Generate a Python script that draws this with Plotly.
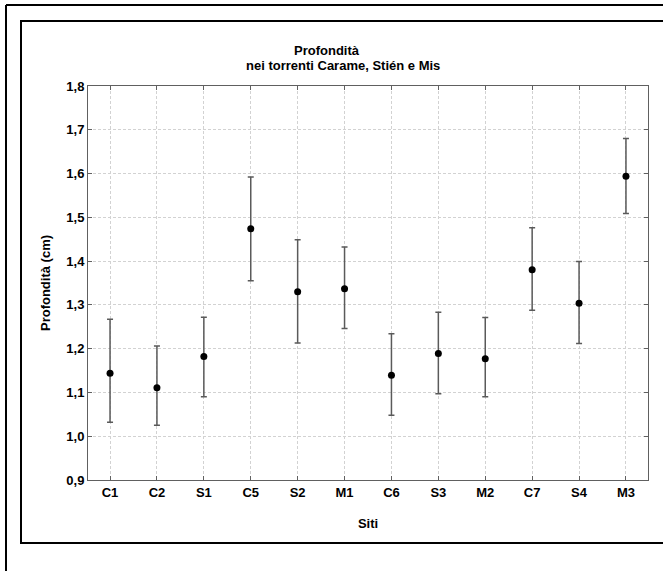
import plotly.graph_objects as go

# Sampling sites along the Carame, Stién and Mis streams
siti = ["C1", "C2", "S1", "C5", "S2", "M1", "C6", "S3", "M2", "C7", "S4", "M3"]
# Mean depth per site
media = [1.144, 1.111, 1.182, 1.474, 1.330, 1.337, 1.139, 1.189, 1.177, 1.380, 1.304, 1.594]
# Upper and lower interval limits
limite_sup = [1.267, 1.206, 1.272, 1.592, 1.449, 1.432, 1.234, 1.283, 1.271, 1.476, 1.399, 1.680]
limite_inf = [1.032, 1.025, 1.090, 1.355, 1.213, 1.246, 1.048, 1.097, 1.090, 1.288, 1.212, 1.509]

y_ticks = [0.9, 1.0, 1.1, 1.2, 1.3, 1.4, 1.5, 1.6, 1.7, 1.8]
y_tick_labels = ["0,9", "1,0", "1,1", "1,2", "1,3", "1,4", "1,5", "1,6", "1,7", "1,8"]

err_plus = [u - m for u, m in zip(limite_sup, media)]
err_minus = [m - l for m, l in zip(media, limite_inf)]

W, H = 663, 571
L, R, T, B = 88, 648, 86, 480  # plot-area pixel box


def px(x):
    return (x - L) / (R - L)


def py(y):
    return (B - y) / (B - T)


FONT = "Liberation Sans"

fig = go.Figure()
fig.add_trace(go.Scatter(
    x=list(range(len(siti))),
    y=media,
    mode="markers",
    marker=dict(color="black", size=7),
    error_y=dict(type="data", symmetric=False, array=err_plus, arrayminus=err_minus,
                 color="#5a5a5a", thickness=1.5, width=3),
    showlegend=False,
    hoverinfo="skip",
))

axis_common = dict(
    showgrid=True, gridcolor="#d2d2d2", griddash="3px,2px", gridwidth=1,
    showline=True, linecolor="#606060", linewidth=1, mirror="ticks",
    ticks="inside", ticklen=4, tickcolor="#606060",
    zeroline=False,
    tickfont=dict(family=FONT, size=13, color="black", weight="bold"),
)

fig.update_xaxes(
    range=[-0.47, len(siti) - 1 + 0.47],
    tickvals=list(range(len(siti))), ticktext=siti,
    title=dict(text="Siti", font=dict(family=FONT, size=13, color="black", weight="bold"), standoff=20),
    **axis_common,
)
fig.update_yaxes(
    range=[0.9, 1.8],
    tickvals=y_ticks, ticktext=y_tick_labels,
    title=dict(text="Profondità (cm)", font=dict(family=FONT, size=13, color="black", weight="bold"), standoff=12),
    **axis_common,
)

shapes = [
    # outer frame (top and left edges)
    dict(type="line", xref="paper", yref="paper", x0=px(6), x1=px(W + 10), y0=py(5), y1=py(5),
         line=dict(color="black", width=2)),
    dict(type="line", xref="paper", yref="paper", x0=px(6), x1=px(6), y0=py(5), y1=py(H + 10),
         line=dict(color="black", width=2)),
    # inner frame
    dict(type="rect", xref="paper", yref="paper", x0=px(21), x1=px(W + 20), y0=py(21), y1=py(543),
         line=dict(color="black", width=2), fillcolor="rgba(0,0,0,0)"),
]

annotations = [
    dict(text="<b>Profondità</b>", xref="paper", yref="paper", x=px(327), y=py(41),
         showarrow=False, font=dict(family=FONT, size=13, color="black")),
    dict(text="<b>nei torrenti Carame, Stién e Mis</b>", xref="paper", yref="paper", x=px(343), y=py(56),
         showarrow=False, font=dict(family=FONT, size=13, color="black")),
]

fig.update_layout(
    width=W, height=H,
    margin=dict(l=L, r=W - R, t=T, b=H - B),
    paper_bgcolor="white", plot_bgcolor="white",
    shapes=shapes, annotations=annotations,
)

fig.write_html("out.html")
